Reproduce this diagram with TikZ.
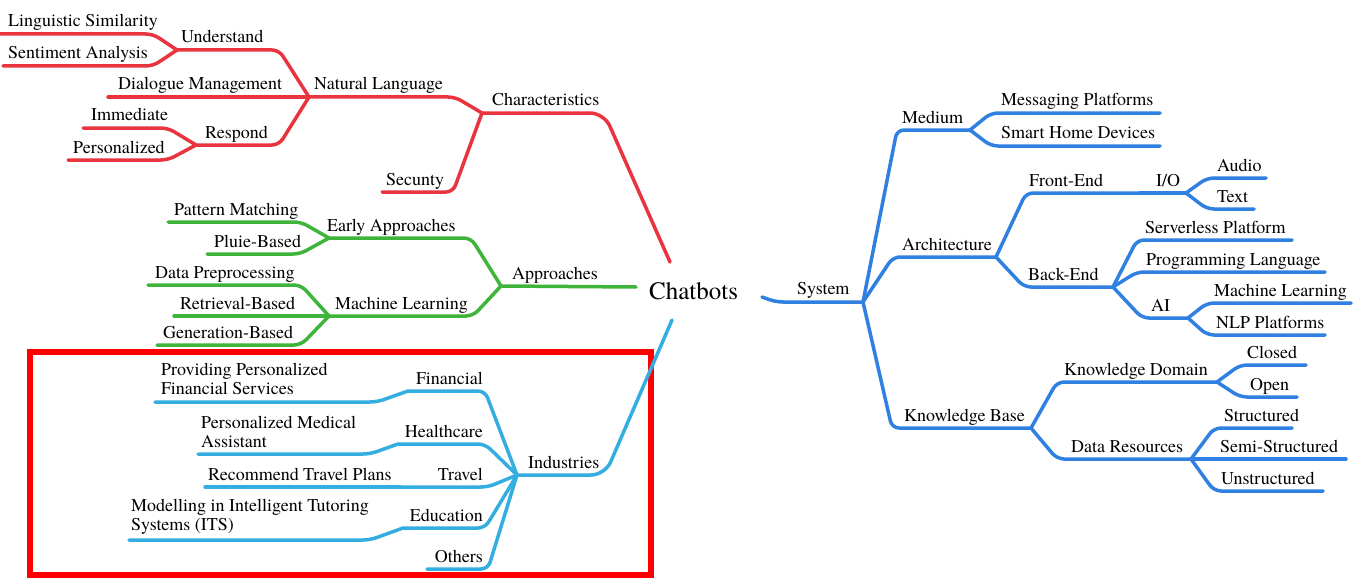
\documentclass[tikz,border=0pt]{standalone}
\usepackage{fontspec}
\IfFontExistsTF{texgyretermes-regular.otf}
  {\setmainfont{texgyretermes-regular.otf}}
  {\setmainfont{Liberation Serif}}
\usetikzlibrary{calc,positioning}

\definecolor{redbr}{RGB}{232,52,62}
\definecolor{greenbr}{RGB}{62,180,58}
\definecolor{cyanbr}{RGB}{52,174,224}
\definecolor{bluebr}{RGB}{48,128,226}

\begin{document}
\begin{tikzpicture}[x=1pt,y=-1pt,font=\rmfamily\fontsize{18}{19}\selectfont]

\tikzset{
branch/.style={line width=3.5pt,rounded corners=7pt,line cap=round,line join=round},
mainbranch/.style={branch,rounded corners=14pt},
charbr/.style={draw=redbr},
appbr/.style={draw=greenbr},
indbr/.style={draw=cyanbr},
sysbr/.style={draw=bluebr},
lab/.style={inner sep=0pt,anchor=base west},
labr/.style={inner sep=0pt,anchor=base east},
labm/.style={inner sep=0pt,anchor=north west,align=left},
highlight/.style={draw=red,line width=6pt}
}

\useasboundingbox (0,0) rectangle (1353,578);

% Junctions
\coordinate (chatr) at (670,262);
\coordinate (chatg) at (636,287);
\coordinate (chatc) at (672,320);
\coordinate (chatb) at (762,297);

\coordinate (charj) at (482,113);  \coordinate (chare) at (604,113);
\coordinate (nlj) at (309,97);     \coordinate (nle) at (455,97);
\coordinate (secj) at (382,192);   \coordinate (sece) at (453,192);
\coordinate (undj) at (177,50);    \coordinate (unde) at (279,50);
\coordinate (dialj) at (108,97);
\coordinate (respj) at (196,145);  \coordinate (respe) at (279,145);
\coordinate (lingj) at (0,34);     \coordinate (linge) at (153,34);
\coordinate (sentj) at (3,66);     \coordinate (sente) at (153,66);
\coordinate (immj) at (83,128);    \coordinate (imme) at (168,128);
\coordinate (persj) at (68,160);   \coordinate (perse) at (168,160);

\coordinate (appj) at (501,286);
\coordinate (earlyj) at (329,238); \coordinate (earlye) at (471,238);
\coordinate (mlgj) at (329,316);   \coordinate (mlge) at (473,316);
\coordinate (patj) at (168,222);   \coordinate (pate) at (301,222);
\coordinate (pluj) at (207,254);   \coordinate (plue) at (300,254);
\coordinate (dataj) at (148,285);  \coordinate (datae) at (301,285);
\coordinate (retj) at (174,316);
\coordinate (genj) at (157,345);   \coordinate (gene) at (301,345);

\coordinate (indj) at (517,475);   \coordinate (inde) at (605,475);
\coordinate (finj) at (408,391);   \coordinate (fine) at (485,391);
\coordinate (provj) at (155,402);  \coordinate (prove) at (377,402);
\coordinate (healj) at (398,444);  \coordinate (heale) at (485,444);
\coordinate (medicalj) at (198,454); \coordinate (medicale) at (370,454);
\coordinate (travelj) at (400,487); \coordinate (travele) at (488,487);
\coordinate (recj) at (205,487);
\coordinate (eduj) at (403,528);   \coordinate (edue) at (485,528);
\coordinate (modj) at (129,540);   \coordinate (mode) at (370,540);
\coordinate (othj) at (427,569);   \coordinate (othe) at (488,569);

\coordinate (sysj) at (863,302);   \coordinate (syse) at (776,302);
\coordinate (mediumj) at (970,130); \coordinate (mediume) at (897,130);
\coordinate (archj) at (996,257);  \coordinate (arche) at (893,257);
\coordinate (kbj) at (1031,428);   \coordinate (kbe) at (892,428);
\coordinate (msgj) at (1160,113);  \coordinate (msge) at (991,113);
\coordinate (smartj) at (1160,146); \coordinate (smarte) at (991,146);
\coordinate (fej) at (1140,193);   \coordinate (fee) at (1026,193);
\coordinate (ioj) at (1186,193);
\coordinate (audioj) at (1266,178); \coordinate (audioe) at (1207,178);
\coordinate (textj) at (1254,209); \coordinate (texte) at (1207,209);
\coordinate (bej) at (1113,287);   \coordinate (bee) at (1024,287);
\coordinate (servj) at (1292,240); \coordinate (serve) at (1137,240);
\coordinate (progj) at (1325,272); \coordinate (proge) at (1137,272);
\coordinate (aij) at (1188,318);   \coordinate (aie) at (1142,318);
\coordinate (mlj) at (1351,303);   \coordinate (mle) at (1207,303);
\coordinate (nlpj) at (1325,335);  \coordinate (nlpe) at (1207,335);
\coordinate (kdj) at (1217,382);   \coordinate (kde) at (1057,382);
\coordinate (drj) at (1191,459);   \coordinate (dre) at (1057,459);
\coordinate (closedj) at (1306,365); \coordinate (closede) at (1240,365);
\coordinate (openj) at (1297,397); \coordinate (opene) at (1240,397);
\coordinate (structj) at (1292,428); \coordinate (structe) at (1214,428);
\coordinate (semij) at (1346,459);
\coordinate (unstructj) at (1323,491); \coordinate (unstructe) at (1214,491);


% Highlight box
\draw[highlight] (30,352) rectangle (651,575);


% Branches
\draw[mainbranch,charbr] (charj) -- (chare) -- (chatr);
\draw[branch,charbr] (nlj) -- (nle) -- (charj);
\draw[branch,charbr] (secj) -- (sece) -- (charj);
\draw[branch,charbr] (undj) -- (unde) -- (nlj);
\draw[branch,charbr] (dialj) -- (nlj);
\draw[branch,charbr] (respj) -- (respe) -- (nlj);
\draw[branch,charbr] (lingj) -- (linge) -- (undj);
\draw[branch,charbr] (sentj) -- (sente) -- (undj);
\draw[branch,charbr] (immj) -- (imme) -- (respj);
\draw[branch,charbr] (persj) -- (perse) -- (respj);

\draw[mainbranch,appbr] (appj) -- (chatg);
\draw[branch,appbr] (earlyj) -- (earlye) -- (appj);
\draw[branch,appbr] (mlgj) -- (mlge) -- (appj);
\draw[branch,appbr] (patj) -- (pate) -- (earlyj);
\draw[branch,appbr] (pluj) -- (plue) -- (earlyj);
\draw[branch,appbr] (dataj) -- (datae) -- (mlgj);
\draw[branch,appbr] (retj) -- (mlgj);
\draw[branch,appbr] (genj) -- (gene) -- (mlgj);

\draw[mainbranch,indbr] (indj) -- (inde) -- (chatc);
\draw[branch,indbr] (finj) -- (fine) -- (indj);
\draw[branch,indbr] (provj) -- (prove) -- (finj);
\draw[branch,indbr] (healj) -- (heale) -- (indj);
\draw[branch,indbr] (medicalj) -- (medicale) -- (healj);
\draw[branch,indbr] (travelj) -- (travele) -- (indj);
\draw[branch,indbr] (recj) -- (travelj);
\draw[branch,indbr] (eduj) -- (edue) -- (indj);
\draw[branch,indbr] (modj) -- (mode) -- (eduj);
\draw[branch,indbr] (othj) -- (othe) -- (indj);

\draw[branch,sysbr] (sysj) -- (syse) -- (chatb);
\draw[branch,sysbr] (mediumj) -- (mediume) -- (sysj);
\draw[branch,sysbr] (archj) -- (arche) -- (sysj);
\draw[branch,sysbr] (kbj) -- (kbe) -- (sysj);
\draw[branch,sysbr] (msgj) -- (msge) -- (mediumj);
\draw[branch,sysbr] (smartj) -- (smarte) -- (mediumj);
\draw[branch,sysbr] (fej) -- (fee) -- (archj);
\draw[branch,sysbr] (ioj) -- (fej);
\draw[branch,sysbr] (audioj) -- (audioe) -- (ioj);
\draw[branch,sysbr] (textj) -- (texte) -- (ioj);
\draw[branch,sysbr] (bej) -- (bee) -- (archj);
\draw[branch,sysbr] (servj) -- (serve) -- (bej);
\draw[branch,sysbr] (progj) -- (proge) -- (bej);
\draw[branch,sysbr] (aij) -- (aie) -- (bej);
\draw[branch,sysbr] (mlj) -- (mle) -- (aij);
\draw[branch,sysbr] (nlpj) -- (nlpe) -- (aij);
\draw[branch,sysbr] (kdj) -- (kde) -- (kbj);
\draw[branch,sysbr] (drj) -- (dre) -- (kbj);
\draw[branch,sysbr] (closedj) -- (closede) -- (kdj);
\draw[branch,sysbr] (openj) -- (opene) -- (kdj);
\draw[branch,sysbr] (structj) -- (structe) -- (drj);
\draw[branch,sysbr] (semij) -- (drj);
\draw[branch,sysbr] (unstructj) -- (unstructe) -- (drj);


% Labels
\node[lab,font=\rmfamily\fontsize{25}{28}\selectfont] (labchat) at (649,299) {Chatbots};

\node[lab] (labchar) at (492,106) {Characteristics};
\node[lab] (labnl) at (314,90) {Natural Language};
\node[lab] (labsec) at (386,185) {Secunty};
\node[lab] (labund) at (181,43) {Understand};
\node[lab] (labdial) at (118,90) {Dialogue Management};
\node[lab] (labresp) at (205,138) {Respond};
\node[lab] (labling) at (8,27) {Linguistic Similarity};
\node[lab] (labsent) at (8,59) {Sentiment Analysis};
\node[lab] (labimm) at (91,121) {Immediate};
\node[lab] (labpers) at (73,153) {Personalized};

\node[lab] (labapp) at (512,279) {Approaches};
\node[lab] (labearly) at (327,231) {Early Approaches};
\node[lab] (labmlg) at (335,309) {Machine Learning};
\node[lab] (labpat) at (174,215) {Pattern Matching};
\node[lab] (labplu) at (214,247) {Pluie-Based};
\node[lab] (labdata) at (155,278) {Data Preprocessing};
\node[lab] (labret) at (180,309) {Retrieval-Based};
\node[lab] (labgen) at (163,338) {Generation-Based};

\node[lab] (labind) at (528,468) {Industries};
\node[labr] (labfin) at (483,384) {Financial};
\node[labr] (labheal) at (483,437) {Healthcare};
\node[labr] (labtravel) at (483,480) {Travel};
\node[labr] (labedu) at (483,521) {Education};
\node[labr] (laboth) at (483,562) {Others};
\node[labm] (labprov) at (161,363) {Providing Personalized\\Financial Services};
\node[labm] (labmedical) at (201,416) {Personalized Medical\\Assistant};
\node[lab] (labrec) at (208,480) {Recommend Travel Plans};
\node[labm] (labmod) at (131,499) {Modelling in Intelligent Tutoring\\Systems (ITS)};

\node[lab] (labsys) at (797,294) {System};
\node[lab] (labmedium) at (902,123) {Medium};
\node[lab] (labarch) at (902,250) {Architecture};
\node[lab] (labkb) at (904,421) {Knowledge Base};
\node[lab] (labmsg) at (1001,106) {Messaging Platforms};
\node[lab] (labsmart) at (1001,139) {Smart Home Devices};
\node[lab] (labfe) at (1029,186) {Front-End};
\node[lab] (labio) at (1156,186) {I/O};
\node[lab] (labaudio) at (1217,171) {Audio};
\node[lab] (labtext) at (1217,202) {Text};
\node[lab] (labbe) at (1028,280) {Back-End};
\node[lab] (labserv) at (1145,233) {Serverless Platform};
\node[lab] (labprog) at (1146,265) {Programming Language};
\node[lab] (labai) at (1151,311) {AI};
\node[lab] (labml) at (1214,296) {Machine Learning};
\node[lab] (labnlp) at (1216,328) {NLP Platforms};
\node[lab] (labkd) at (1064,375) {Knowledge Domain};
\node[lab] (labdr) at (1071,452) {Data Resources};
\node[lab] (labclosed) at (1247,358) {Closed};
\node[lab] (labopen) at (1250,390) {Open};
\node[lab] (labstruct) at (1224,421) {Structured};
\node[lab] (labsemi) at (1220,452) {Semi-Structured};
\node[lab] (labunstruct) at (1221,484) {Unstructured};

\end{tikzpicture}
\end{document}
